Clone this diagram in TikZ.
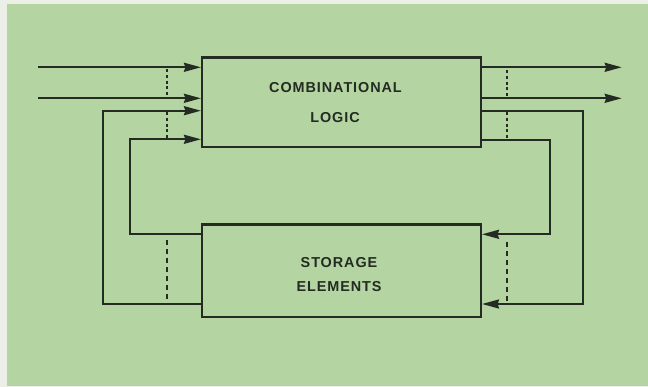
\documentclass[tikz,border=0pt]{standalone}
\usepackage{fontspec}
\setmainfont{Liberation Sans}[LetterSpace=6.5]
\usetikzlibrary{arrows.meta,calc}
\definecolor{bggreen}{HTML}{B4D4A1}
\definecolor{margin}{HTML}{ECEEE8}
\definecolor{ink}{HTML}{232B23}
\tikzset{
  box/.style={draw=ink, line width=2.1pt, minimum width=279pt, inner sep=0pt},
  lbl/.style={anchor=base, text=ink, font=\bfseries\fontsize{14.4pt}{16pt}\selectfont, inner sep=0pt},
  wire/.style={draw=ink, line width=2.1pt},
  arr/.style={wire, -{Stealth[length=17pt,width=9pt,inset=1.5pt]}},
  dotline/.style={draw=ink, line width=2pt, dash pattern=on 3pt off 2.6pt},
  dashline/.style={draw=ink, line width=2pt, dash pattern=on 5pt off 4pt}
}
\begin{document}
\begin{tikzpicture}[x=1pt,y=-1pt]
\useasboundingbox (0,0) rectangle (648,387);
\fill[margin] (0,0) rectangle (648,387);
\fill[bggreen] (7,4) rectangle (648,386);
% boxes
\node[box, minimum height=89.5pt] (cl) at (341.5,102.25) {};
\node[box, minimum height=92.5pt] (st) at (341.5,270.75) {};
\node[lbl] (cl1) at (335.5,93) {COMBINATIONAL};
\node[lbl] (cl2) at (335,122.7) {LOGIC};
\node[lbl] (st1) at (339,267.3) {STORAGE};
\node[lbl] (st2) at (339,291.7) {ELEMENTS};
% coordinates
\coordinate (in1) at (38,67.3);
\coordinate (in2) at (38,98.3);
\coordinate (out1) at (621.7,67.3);
\coordinate (out2) at (621.7,98.3);
\coordinate (fa) at (102.7,110.7);
\coordinate (fb) at (130,139.3);
\coordinate (fc) at (583.3,110.7);
\coordinate (fd) at (550,140);
% inputs and outputs
\draw[arr] (in1) -- (cl.west |- in1);
\draw[arr] (in2) -- (cl.west |- in2);
\draw[arr] (cl.east |- out1) -- (out1);
\draw[arr] (cl.east |- out2) -- (out2);
% feedback left
\draw[arr] (st.west |- 0,304) -| (fa) -- (cl.west |- fa);
\draw[arr] (st.west |- 0,234.3) -| (fb) -- (cl.west |- fb);
% feedback right
\draw[arr] (cl.east |- fc) -| (583.3,304) -- (st.east |- 0,304);
\draw[arr] (cl.east |- fd) -| (550,234.3) -- (st.east |- 0,234.3);
% dotted bus marks
\coordinate (d1a) at (166.5,69.5); \coordinate (d1b) at (166.5,96.5);
\coordinate (d2a) at (166.5,112.5); \coordinate (d2b) at (166.5,138);
\coordinate (d3a) at (506.5,70.5); \coordinate (d3b) at (506.5,96);
\coordinate (d4a) at (506.5,112.5); \coordinate (d4b) at (506.5,138.5);
\coordinate (d5a) at (166.5,240.5); \coordinate (d5b) at (166.5,301);
\coordinate (d6a) at (506.5,242.5); \coordinate (d6b) at (506.5,301);
\draw[dotline] (d1a) -- (d1b);
\draw[dotline] (d2a) -- (d2b);
\draw[dotline] (d3a) -- (d3b);
\draw[dotline] (d4a) -- (d4b);
\draw[dashline] (d5a) -- (d5b);
\draw[dashline] (d6a) -- (d6b);
\end{tikzpicture}
\end{document}
